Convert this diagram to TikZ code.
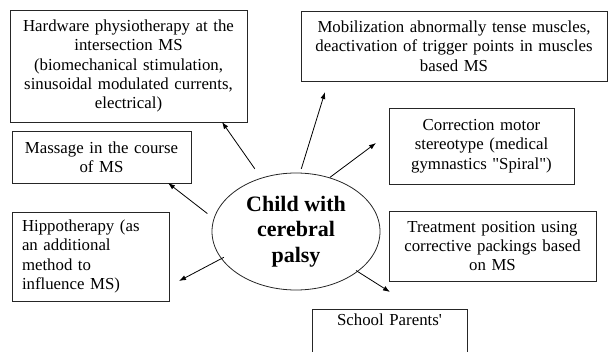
\documentclass[tikz,border=0pt]{standalone}
\usepackage{fontspec}
\setmainfont{Liberation Serif}[Ligatures=TeXOff]
\usetikzlibrary{shapes.geometric,arrows.meta}

\begin{document}
\begin{tikzpicture}[x=1pt, y=-1pt,
  box/.style={draw=black!85, line width=0.8pt, inner xsep=6pt, inner ysep=0pt,
    align=center, font=\fontsize{16.8}{19.3}\selectfont},
  arr/.style={line width=0.8pt, -{Latex[length=7pt,width=5pt]}}]
\useasboundingbox (0,0) rectangle (609,352);

\node[ellipse, draw=black!85, line width=0.8pt, minimum width=168pt, minimum height=117pt,
  inner sep=0pt, align=center, font=\bfseries\fontsize{22}{25.5}\selectfont]
  (child) at (296,231.5) {Child with\\cerebral\\palsy};

\node[box, text width=225pt, minimum height=112pt] (hw) at (128.5,66)
  {Hardware physiotherapy at the\\intersection MS\\(biomechanical stimulation,\\sinusoidal modulated currents,\\electrical)};
\node[box, text width=167pt, minimum height=52pt] (mass) at (101.5,157)
  {Massage in the course\\of MS};
\node[box, text width=137pt, inner xsep=10pt, align=left, minimum height=89pt] (hippo) at (90.5,256.5)
  {Hippotherapy (as\\an additional\\method to\\influence MS)};
\node[box, text width=298pt, inner xsep=4pt, minimum height=70pt] (mob) at (454,46)
  {Mobilization abnormally tense muscles,\\deactivation of trigger points in muscles\\based MS};
\node[box, text width=173pt, minimum height=76pt] (corr) at (481.5,146)
  {Correction motor\\stereotype (medical\\gymnastics "Spiral")};
\node[box, text width=195pt, minimum height=70pt] (treat) at (492.5,246)
  {Treatment position using\\corrective packings based\\on MS};
\node[box, text width=143pt, inner ysep=4pt, anchor=north] (school) at (389.5,309)
  {School Parents'\\\mbox{}\\\mbox{}};

% free ends of the arrows
\coordinate (hwtip) at (222,122);
\coordinate (mobtip) at (325,92);
\coordinate (corrtip) at (376,143);
\coordinate (masstip) at (168,183);
\coordinate (hippotip) at (179,281);
\coordinate (treattip) at (390,292);

\draw[arr, shorten <=11pt] (child.123) -- (hwtip);
\draw[arr, shorten <=4pt] (child.86) -- (mobtip);
\draw[arr] (child.58) -- (corrtip);
\draw[arr, shorten <=8pt] (child.171) -- (masstip);
\draw[arr, shorten <=-3pt] (child.200) -- (hippotip);
\draw[arr, shorten <=-2pt] (child.-33) -- (treattip);
\end{tikzpicture}
\end{document}
